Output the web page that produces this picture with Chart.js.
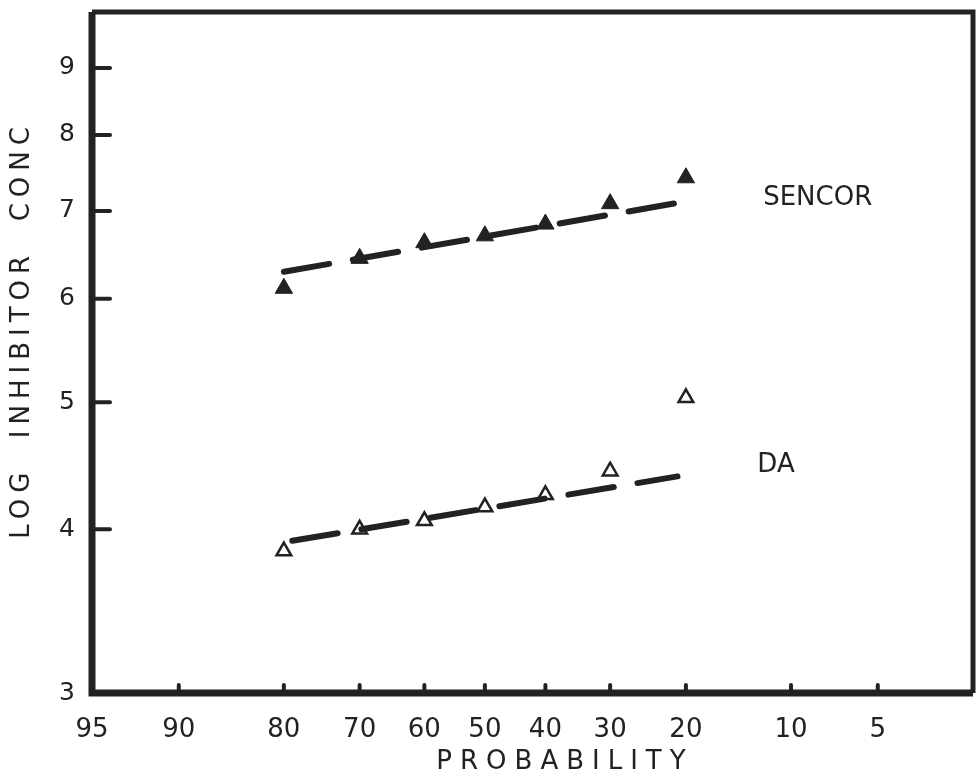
<!DOCTYPE html>
<html>
<head>
<meta charset="utf-8">
<script src="https://cdn.jsdelivr.net/npm/chart.js@4"></script>
<style>
  html, body { margin: 0; padding: 0; background: #fff; }
  #wrap { width: 976px; height: 782px; }
</style>
</head>
<body>
<div id="wrap"><canvas id="chart" width="976" height="782"></canvas></div>
<script>
// Probability (%) on a normal-probability axis, log concentration on the y axis
const probability = [80, 70, 60, 50, 40, 30, 20];
const sencor = [6.11, 6.44, 6.62, 6.70, 6.84, 7.09, 7.42];
const da = [3.85, 4.00, 4.06, 4.16, 4.25, 4.43, 5.04];

// fitted (dashed) lines, two end points each
const sencorFitProb = [80, 21];
const sencorFit = [6.29, 7.10];
const daFitProb = [79, 21];
const daFit = [3.92, 4.39];

const xTicks = [95, 90, 80, 70, 60, 50, 40, 30, 20, 10, 5];
const xTickLabels = ['95', '90', '80', '70', '60', '50', '40', '30', '20', '10', '5'];
const yTicks = [3, 4, 5, 6, 7, 8, 9];
const yTickLabels = ['3', '4', '5', '6', '7', '8', '9'];

const ink = '#222';
const font = '"DejaVu Sans", sans-serif';

// inverse normal CDF (Acklam) - used to build the probability scale
function qnorm(p) {
    const a = [-39.69683028665376, 220.9460984245205, -275.9285104469687, 138.3577518672690, -30.66479806614716, 2.506628277459239];
    const b = [-54.47609879822406, 161.5858368580409, -155.6989798598866, 66.80131188771972, -13.28068155288572];
    const c = [-0.007784894002430293, -0.3223964580411365, -2.400758277161838, -2.549732539343734, 4.374664141464968, 2.938163982698783];
    const d = [0.007784695709041462, 0.3224671290700398, 2.445134137142996, 3.754408661907416];
    const pl = 0.02425;
    let q, r;
    if (p < pl) {
        q = Math.sqrt(-2 * Math.log(p));
        return (((((c[0]*q+c[1])*q+c[2])*q+c[3])*q+c[4])*q+c[5]) / ((((d[0]*q+d[1])*q+d[2])*q+d[3])*q+1);
    }
    if (p <= 1 - pl) {
        q = p - 0.5; r = q * q;
        return (((((a[0]*r+a[1])*r+a[2])*r+a[3])*r+a[4])*r+a[5])*q / (((((b[0]*r+b[1])*r+b[2])*r+b[3])*r+b[4])*r+1);
    }
    q = Math.sqrt(-2 * Math.log(1 - p));
    return -(((((c[0]*q+c[1])*q+c[2])*q+c[3])*q+c[4])*q+c[5]) / ((((d[0]*q+d[1])*q+d[2])*q+d[3])*q+1);
}
// high probability on the left
const probToX = p => -qnorm(p / 100);

const pts = (xs, ys) => xs.map((p, i) => ({ x: probToX(p), y: ys[i] }));

// no edge padding for the first/last tick labels
function fixBox(s, key, size) {
    s[key] = size;
    s.paddingTop = 0; s.paddingBottom = 0; s.paddingLeft = 0; s.paddingRight = 0;
}

// frame, inward tick marks, axis titles and series labels
const decorPlugin = {
    id: 'decor',
    afterDraw(chart) {
        const ctx = chart.ctx;
        const a = chart.chartArea;
        const xs = chart.scales.x, ys = chart.scales.y;
        ctx.save();
        ctx.strokeStyle = ink;
        ctx.lineCap = 'round';

        ctx.lineWidth = 4;
        yTicks.slice(1).forEach(v => {
            const py = ys.getPixelForValue(v);
            ctx.beginPath(); ctx.moveTo(a.left, py); ctx.lineTo(a.left + 18, py); ctx.stroke();
        });
        xTicks.slice(1).forEach(p => {
            const px = xs.getPixelForValue(probToX(p));
            ctx.beginPath(); ctx.moveTo(px, a.bottom); ctx.lineTo(px, a.bottom - 8); ctx.stroke();
        });

        ctx.lineCap = 'butt';
        ctx.lineWidth = 7;
        ctx.beginPath(); ctx.moveTo(a.left, a.top); ctx.lineTo(a.left, a.bottom); ctx.lineTo(a.right, a.bottom); ctx.stroke();
        ctx.lineWidth = 5;
        ctx.beginPath(); ctx.moveTo(a.left, a.top); ctx.lineTo(a.right, a.top); ctx.lineTo(a.right, a.bottom); ctx.stroke();

        ctx.fillStyle = ink;
        ctx.textBaseline = 'middle';
        ctx.font = '26px ' + font;
        ctx.textAlign = 'left';
        ctx.fillText('SENCOR', xs.getPixelForValue(probToX(12.2)), ys.getPixelForValue(7.16));
        ctx.fillText('DA', xs.getPixelForValue(probToX(12.7)), ys.getPixelForValue(4.48));

        ctx.textAlign = 'center';
        ctx.letterSpacing = '8px';
        ctx.fillText('PROBABILITY', 565, 762);
        ctx.letterSpacing = '6px';
        ctx.translate(22, 333);
        ctx.rotate(-Math.PI / 2);
        ctx.fillText('LOG  INHIBITOR  CONC', 3, 0);
        ctx.restore();
    }
};

new Chart(document.getElementById('chart'), {
    type: 'scatter',
    data: {
        datasets: [
            { label: 'SENCOR fit', data: pts(sencorFitProb, sencorFit), showLine: true, borderColor: ink,
              borderWidth: 6, borderDash: [46, 24], borderCapStyle: 'round', pointRadius: 0, pointHoverRadius: 0 },
            { label: 'DA fit', data: pts(daFitProb, daFit), showLine: true, borderColor: ink,
              borderWidth: 6, borderDash: [46, 24], borderCapStyle: 'round', pointRadius: 0, pointHoverRadius: 0 },
            { label: 'SENCOR', data: pts(probability, sencor), pointStyle: 'triangle', pointRadius: 10,
              backgroundColor: ink, borderColor: ink, borderWidth: 1 },
            { label: 'DA', data: pts(probability, da), pointStyle: 'triangle', pointRadius: 8.5,
              backgroundColor: '#fff', borderColor: ink, borderWidth: 2.5 }
        ]
    },
    options: {
        responsive: false,
        animation: false,
        layout: { autoPadding: false, padding: { top: 12, right: 3, left: 0, bottom: 0 } },
        plugins: { legend: { display: false }, tooltip: { enabled: false } },
        scales: {
            x: {
                type: 'linear',
                min: probToX(95),
                max: probToX(2.05),
                grid: { display: false, drawTicks: false },
                border: { display: false },
                afterBuildTicks: s => { s.ticks = xTicks.map(p => ({ value: probToX(p) })); },
                afterFit: s => fixBox(s, 'height', 89),
                ticks: {
                    padding: 22,
                    color: ink,
                    font: { family: font, size: 26 },
                    maxRotation: 0,
                    autoSkip: false,
                    callback: (v, i) => xTickLabels[i]
                }
            },
            y: {
                type: 'logarithmic',
                min: 3,
                max: 9.93,
                grid: { display: false, drawTicks: false },
                border: { display: false },
                afterBuildTicks: s => { s.ticks = yTicks.map(v => ({ value: v })); },
                afterFit: s => fixBox(s, 'width', 92),
                ticks: {
                    padding: 17,
                    color: ink,
                    font: { family: font, size: 25 },
                    autoSkip: false,
                    callback: (v, i) => yTickLabels[i]
                }
            }
        }
    },
    plugins: [decorPlugin]
});
</script>
</body>
</html>
